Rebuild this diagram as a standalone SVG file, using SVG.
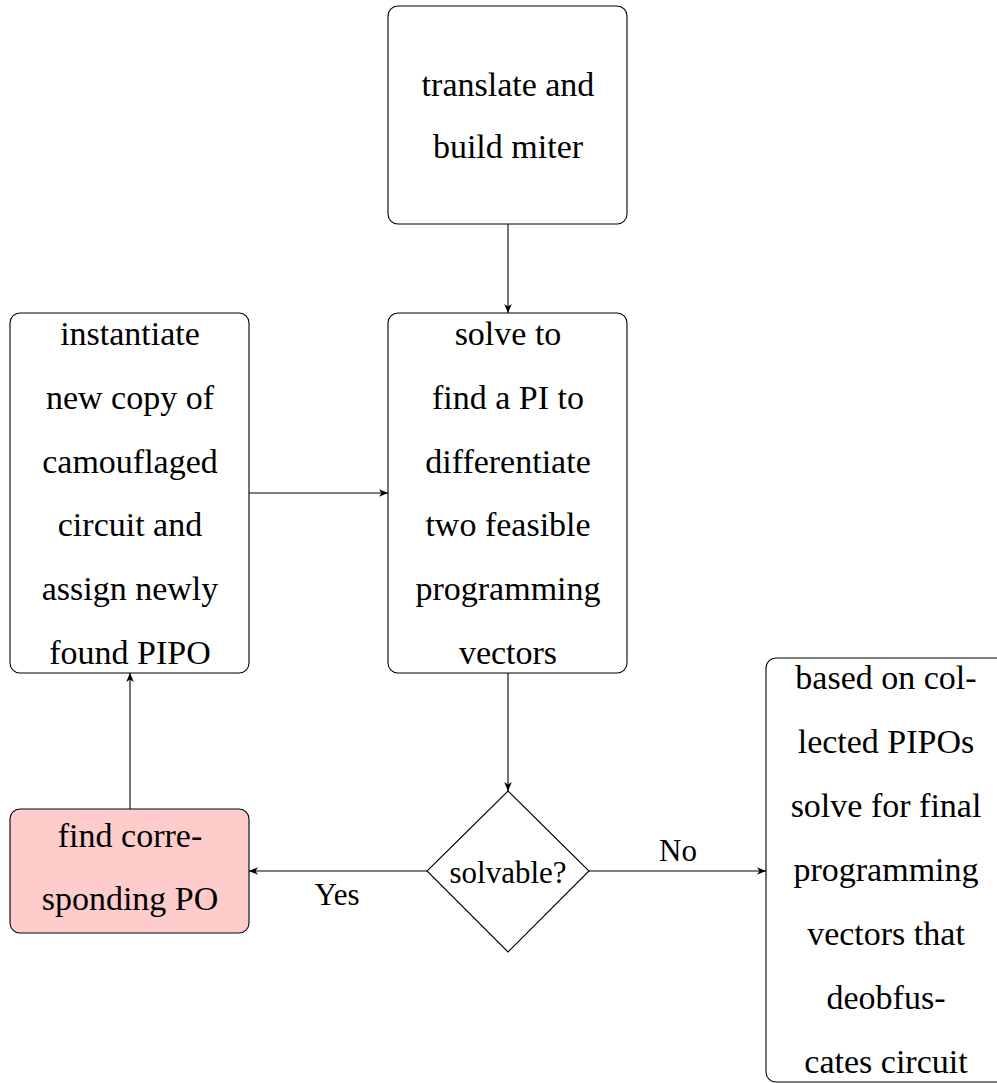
<svg xmlns="http://www.w3.org/2000/svg" width="997" height="1083" viewBox="0 0 997 1083">
<style>
.box{fill:#fff;stroke:#000;stroke-width:1.1}
.pink{fill:#ffcccc;stroke:#000;stroke-width:1.1}
.t{font-family:'Liberation Serif','Noto Serif','DejaVu Serif','Times New Roman',serif;font-size:34px;fill:#000;text-anchor:middle}
.s{font-family:'Liberation Serif','Noto Serif','DejaVu Serif','Times New Roman',serif;font-size:31px;fill:#000;text-anchor:middle}
.c{fill:none;stroke:#000;stroke-width:1.1;marker-end:url(#arr)}
</style>
<defs>
<marker id="arr" markerUnits="userSpaceOnUse" markerWidth="12" markerHeight="10" viewBox="-10 -5 12 10" refX="0" refY="0" orient="auto">
<path d="M0,0 L-9,-3.8 L-6.5,0 L-9,3.8 Z" fill="#000"/>
</marker>
</defs>
<rect width="997" height="1083" fill="#fff"/>
<g id="connectors">
<line class="c" x1="508" y1="224" x2="508" y2="313"/>
<line class="c" x1="249" y1="493" x2="388" y2="493"/>
<line class="c" x1="508" y1="673" x2="508" y2="791"/>
<line class="c" x1="427" y1="871" x2="249" y2="871"/>
<line class="c" x1="589" y1="871" x2="766" y2="871"/>
<line class="c" x1="130" y1="809" x2="130" y2="673"/>
<text class="s" x="678" y="861">No</text>
<text class="s" x="337" y="905">Yes</text>
</g>
<g id="translate">
<rect class="box" x="388" y="6" width="239" height="218" rx="10"/>
<text class="t" x="508" y="96">translate and</text>
<text class="t" x="508" y="158">build miter</text>
</g>
<g id="solve">
<rect class="box" x="388" y="313" width="239" height="360" rx="10"/>
<text class="t" x="508" y="345">solve to</text>
<text class="t" x="508" y="409">find a PI to</text>
<text class="t" x="508" y="473">differentiate</text>
<text class="t" x="508" y="536">two feasible</text>
<text class="t" x="508" y="600">programming</text>
<text class="t" x="508" y="664">vectors</text>
</g>
<g id="instantiate">
<rect class="box" x="10" y="313" width="239" height="360" rx="10"/>
<text class="t" x="130" y="345">instantiate</text>
<text class="t" x="130" y="409">new copy of</text>
<text class="t" x="130" y="473">camouflaged</text>
<text class="t" x="130" y="536">circuit and</text>
<text class="t" x="130" y="600">assign newly</text>
<text class="t" x="130" y="664">found PIPO</text>
</g>
<g id="decision">
<polygon class="box" points="508,791 589,871 508,952 427,871"/>
<text class="s" x="508" y="883">solvable?</text>
</g>
<g id="findpo">
<rect class="pink" x="10" y="809" width="239" height="124" rx="10"/>
<text class="t" x="130" y="847">find corre-</text>
<text class="t" x="130" y="910">sponding PO</text>
</g>
<g id="final">
<rect class="box" x="766" y="658" width="240" height="424" rx="10"/>
<text class="t" x="886" y="689">based on col-</text>
<text class="t" x="886" y="753">lected PIPOs</text>
<text class="t" x="886" y="817">solve for final</text>
<text class="t" x="886" y="881">programming</text>
<text class="t" x="886" y="945">vectors that</text>
<text class="t" x="886" y="1009">deobfus-</text>
<text class="t" x="886" y="1073">cates circuit</text>
</g>
</svg>
